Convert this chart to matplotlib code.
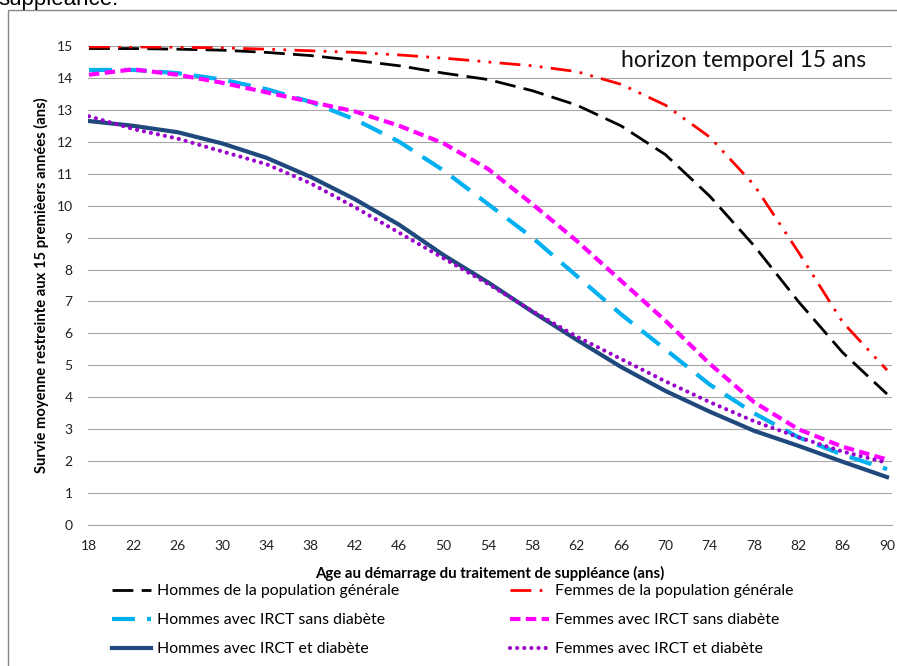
import matplotlib
matplotlib.use("Agg")
import matplotlib.pyplot as plt
from matplotlib.patches import Rectangle

# data (every 4 years)
ages = [18, 22, 26, 30, 34, 38, 42, 46, 50, 54, 58, 62, 66, 70, 74, 78, 82, 86, 90]
hommes_pop = [14.92, 14.92, 14.9, 14.87, 14.8, 14.7, 14.55, 14.38, 14.15, 13.95, 13.6, 13.15, 12.5, 11.6, 10.3, 8.75, 7.0, 5.4, 4.1]
femmes_pop = [14.97, 14.97, 14.96, 14.94, 14.9, 14.85, 14.8, 14.72, 14.62, 14.5, 14.38, 14.2, 13.8, 13.15, 12.15, 10.65, 8.55, 6.35, 4.85]
hommes_sans = [14.25, 14.25, 14.15, 13.95, 13.65, 13.25, 12.7, 12.0, 11.1, 10.05, 9.0, 7.8, 6.6, 5.5, 4.4, 3.5, 2.75, 2.2, 1.75]
femmes_sans = [14.1, 14.27, 14.1, 13.85, 13.55, 13.25, 12.95, 12.5, 11.95, 11.15, 10.05, 8.9, 7.65, 6.4, 5.05, 3.85, 3.0, 2.45, 2.05]
hommes_diab = [12.65, 12.5, 12.3, 11.95, 11.5, 10.9, 10.2, 9.4, 8.45, 7.6, 6.68, 5.8, 4.95, 4.2, 3.55, 2.95, 2.48, 1.98, 1.5]
femmes_diab = [12.8, 12.4, 12.1, 11.7, 11.3, 10.7, 9.95, 9.15, 8.35, 7.55, 6.7, 5.9, 5.2, 4.5, 3.85, 3.25, 2.75, 2.3, 1.95]

lab_h_pop = "Hommes de la population générale"
lab_f_pop = "Femmes de la population générale"
lab_h_sans = "Hommes avec IRCT sans diabète"
lab_f_sans = "Femmes avec IRCT sans diabète"
lab_h_diab = "Hommes avec IRCT et diabète"
lab_f_diab = "Femmes avec IRCT et diabète"

FONT = ["Lato", "DejaVu Sans"]
W, H = 897, 666

fig = plt.figure(figsize=(W / 100, H / 100), dpi=100)
ax = fig.add_axes([88 / W, 1 - 525 / H, (892 - 88) / W, (525 - 46) / H])

l1, = ax.plot(ages, hommes_pop, color="black", lw=2, linestyle=(0, (7.5, 3)), label=lab_h_pop)
l2, = ax.plot(ages, femmes_pop, color="#FF0000", lw=2, linestyle=(0, (7.5, 3, 1, 3, 1, 3)), label=lab_f_pop)
l3, = ax.plot(ages, hommes_sans, color="#00B0F0", lw=3, linestyle=(0, (5.5, 2.9)), label=lab_h_sans)
l4, = ax.plot(ages, femmes_sans, color="#FF00FF", lw=3, linestyle=(0, (2.5, 1.3)), label=lab_f_sans)
l5, = ax.plot(ages, hommes_diab, color="#1F497D", lw=3, label=lab_h_diab)
l6, = ax.plot(ages, femmes_diab, color="#9900CC", lw=3, linestyle=(0, (0.01, 1.7)),
              dash_capstyle="round", label=lab_f_diab)

ax.set_xlim(17.91, 90.45)
ax.set_ylim(0, 15)
ax.set_xticks(ages)
ax.set_yticks(range(0, 16))
ax.grid(axis="y", color="#A6A6A6", lw=0.8)
ax.set_axisbelow(True)
for s in ["top", "right", "left"]:
    ax.spines[s].set_visible(False)
ax.spines["bottom"].set_color("#A6A6A6")
ax.spines["bottom"].set_linewidth(0.8)
ax.tick_params(length=0, labelsize=10, colors="#222222")
ax.tick_params(axis="y", pad=11)
ax.tick_params(axis="x", pad=11)
for t in ax.get_xticklabels() + ax.get_yticklabels():
    t.set_family(FONT)

ax.text(77.1, 14.55, "horizon temporel 15 ans", ha="center", va="center",
        fontsize=16.5, family=FONT, color="#111111")

fig.text(490 / W, 1 - 573 / H, "Age au démarrage du traitement de suppléance (ans)",
         ha="center", va="center", fontsize=10.8, fontweight="bold", family=FONT)
fig.text(41 / W, 1 - 285 / H, "Survie moyenne restreinte aux 15 premièers années (ans)",
         ha="center", va="center", rotation=90, fontsize=10.6, fontweight="bold", family=FONT)

# legend in two columns, as two blocks
leg_kw = dict(frameon=False, handlelength=2.45, handletextpad=0.4,
              labelspacing=0.95, borderpad=0, borderaxespad=0,
              prop={"family": FONT, "size": 11.4})
fig.legend([l1, l3, l5], [lab_h_pop, lab_h_sans, lab_h_diab], loc="upper left",
           bbox_to_anchor=(112 / W, 1 - 584 / H), **leg_kw)
fig.legend([l2, l4, l6], [lab_f_pop, lab_f_sans, lab_f_diab], loc="upper left",
           bbox_to_anchor=(510 / W, 1 - 584 / H), **leg_kw)

# chart border and clipped caption text above it
fig.add_artist(Rectangle((8 / W, -0.1), 1.0, 1 - 10 / H + 0.1, transform=fig.transFigure,
                         fill=False, ec="#888888", lw=1))
fig.text(-2 / W, 1 - 5 / H, "suppléance.", ha="left", va="baseline", fontsize=16,
         family=["Liberation Sans", "DejaVu Sans"])

fig.savefig("out.png", dpi=100)
